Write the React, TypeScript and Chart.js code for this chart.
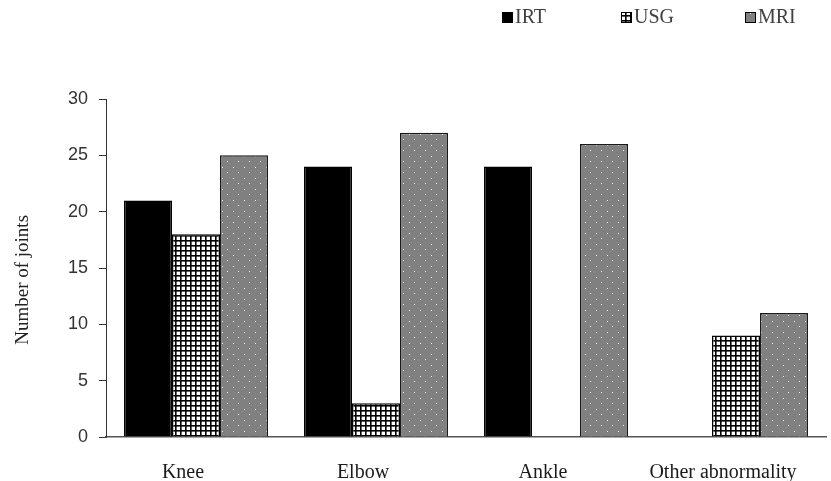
import { useEffect, useRef } from "react";
import { Chart, registerables } from "chart.js";

Chart.register(...registerables);

const categories = ["Knee", "Elbow", "Ankle", "Other abnormality"];
const seriesNames = ["IRT", "USG", "MRI"];
const irtValues = [21, 24, 24, 0];
const usgValues = [18, 3, 0, 9];
const mriValues = [25, 27, 26, 11];
const yMin = 0;
const yMax = 30;
const yStep = 5;
const yTitle = "Number of joints";

function makeGridPattern(ctx: CanvasRenderingContext2D) {
  const c = document.createElement("canvas");
  c.width = 5;
  c.height = 5;
  const g = c.getContext("2d")!;
  g.fillStyle = "#ffffff";
  g.fillRect(0, 0, 5, 5);
  g.fillStyle = "#000000";
  g.fillRect(0, 0, 5, 1.6);
  g.fillRect(0, 0, 1.6, 5);
  return ctx.createPattern(c, "repeat")!;
}

function makeDotPattern(ctx: CanvasRenderingContext2D) {
  const c = document.createElement("canvas");
  c.width = 11;
  c.height = 11;
  const g = c.getContext("2d")!;
  g.fillStyle = "#808080";
  g.fillRect(0, 0, 11, 11);
  g.fillStyle = "#f2f2f2";
  g.fillRect(2, 2, 1, 1);
  g.fillRect(7, 7, 1, 1);
  return ctx.createPattern(c, "repeat")!;
}

const legendPlugin = {
  id: "customLegend",
  afterDraw(chart: any) {
    const ctx = chart.ctx as CanvasRenderingContext2D;
    const starts = [502, 621, 745];
    ctx.save();
    ctx.font = '20px "Liberation Serif"';
    ctx.textBaseline = "middle";
    ctx.textAlign = "left";
    chart.data.datasets.forEach((ds: any, i: number) => {
      const x = starts[i];
      const y = 12;
      ctx.fillStyle = ds.backgroundColor;
      ctx.fillRect(x, y, 11, 11);
      ctx.strokeStyle = "#000";
      ctx.lineWidth = 1;
      ctx.strokeRect(x + 0.5, y + 0.5, 10, 10);
      ctx.fillStyle = "#404040";
      ctx.fillText(ds.label, x + 13, y + 6);
    });
    ctx.restore();
  },
};

export default function App() {
  const ref = useRef<HTMLCanvasElement | null>(null);
  useEffect(() => {
    const canvas = ref.current!;
    const ctx = canvas.getContext("2d")!;
    const gridPat = makeGridPattern(ctx);
    const dotPat = makeDotPattern(ctx);
    const chart = new Chart(canvas, {
      type: "bar",
      data: {
        labels: categories,
        datasets: [
          {
            label: seriesNames[0],
            data: irtValues,
            backgroundColor: "#000000",
            borderColor: "#000000",
            borderWidth: 1.5,
          },
          {
            label: seriesNames[1],
            data: usgValues,
            backgroundColor: gridPat as any,
            borderColor: "#000000",
            borderWidth: 1.5,
          },
          {
            label: seriesNames[2],
            data: mriValues,
            backgroundColor: dotPat as any,
            borderColor: "#1a1a1a",
            borderWidth: 1.5,
          },
        ],
      },
      options: {
        animation: false,
        responsive: true,
        maintainAspectRatio: false,
        layout: { padding: { top: 99, right: 5, left: 0, bottom: 0 } },
        datasets: { bar: { categoryPercentage: 0.8, barPercentage: 1 } },
        plugins: {
          legend: { display: false },
          tooltip: { enabled: false },
        },
        scales: {
          x: {
            grid: { display: false },
            border: { display: true, color: "#555555", width: 1.5 },
            ticks: {
              font: { family: "Liberation Serif", size: 20 },
              color: "#1a1a1a",
              padding: 16,
              labelOffset: -13,
              maxRotation: 0,
              autoSkip: false,
            },
            afterFit: (s: any) => {
              s.height = 44;
            },
          },
          y: {
            min: yMin,
            max: yMax,
            grid: {
              display: true,
              drawOnChartArea: false,
              drawTicks: true,
              tickLength: 7,
              color: "#333333",
            },
            border: { display: true, color: "#333333", width: 1 },
            ticks: {
              stepSize: yStep,
              font: { family: "Liberation Sans", size: 18 },
              color: "#333333",
              padding: 11,
            },
            title: {
              display: true,
              text: yTitle + "     ",
              font: { family: "Liberation Serif", size: 19, weight: "normal" },
              color: "#222222",
              padding: { top: 12, bottom: 0 },
            },
            afterFit: (s: any) => {
              s.width = 106;
            },
          },
        },
      },
      plugins: [legendPlugin],
    });
    return () => chart.destroy();
  }, []);
  return (
    <div style={{ position: "absolute", left: 0, top: 0, width: 831, height: 481 }}>
      <canvas ref={ref} />
    </div>
  );
}
